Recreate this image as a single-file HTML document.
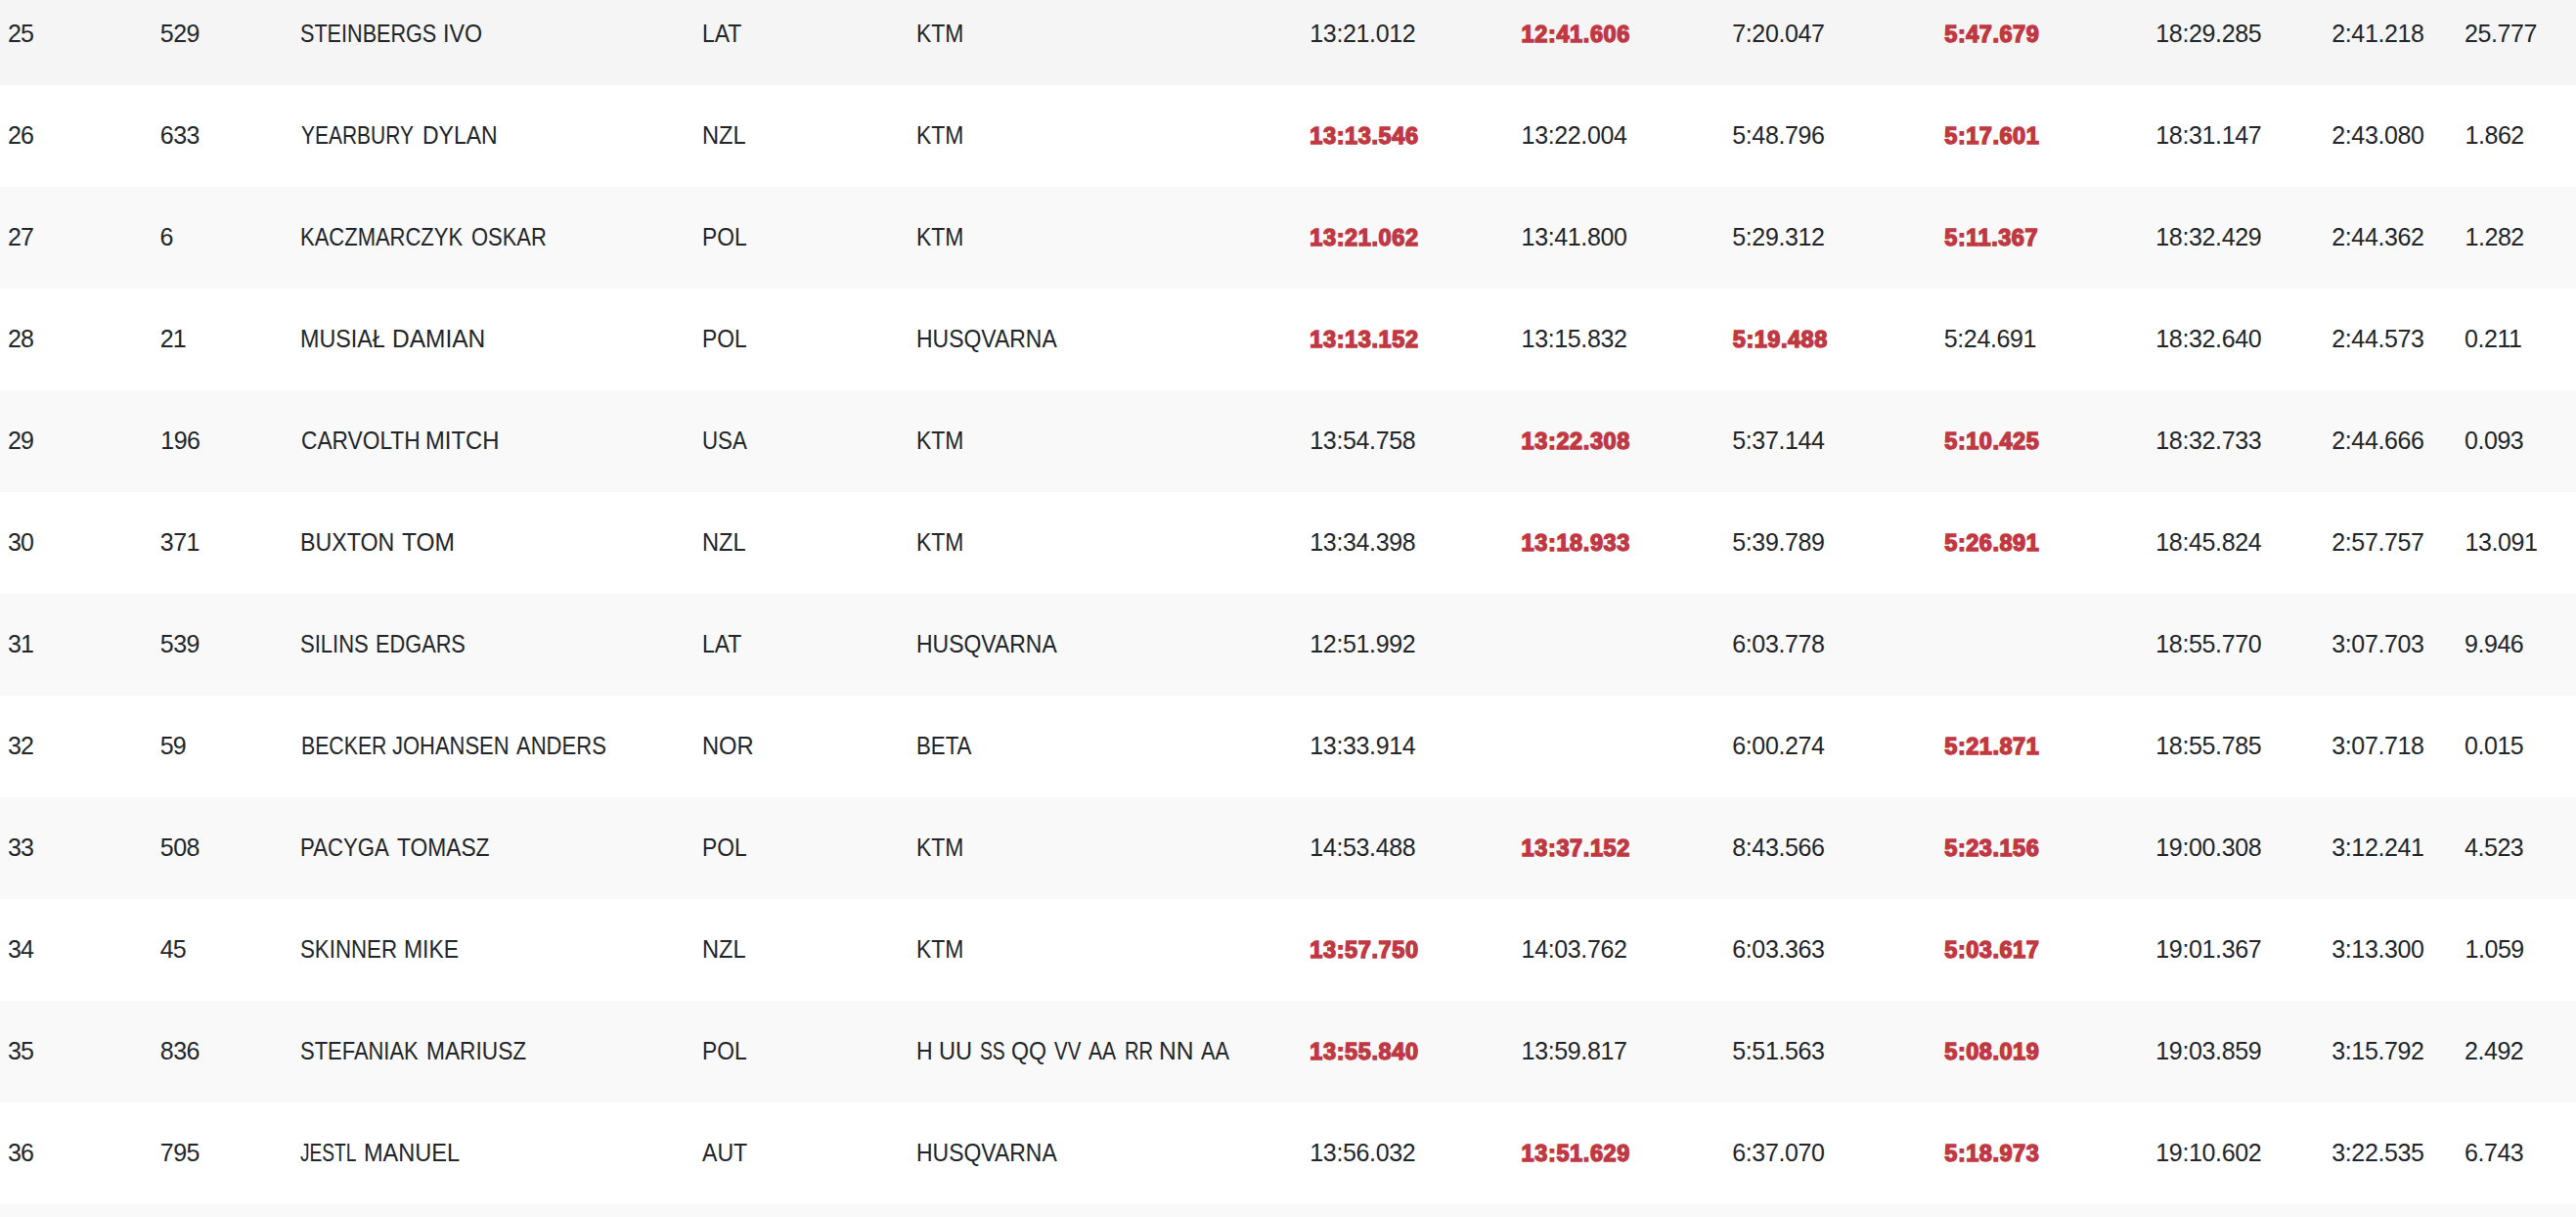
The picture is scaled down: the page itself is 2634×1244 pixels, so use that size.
<!DOCTYPE html>
<html lang="en"><head><meta charset="utf-8"><title>Results</title>
<style>
html,body{margin:0;padding:0;}
body{width:2634px;height:1244px;overflow:hidden;background:#fff;position:relative;
font-family:"Liberation Sans",sans-serif;font-size:25px;color:#22262a;}
.r{position:absolute;left:0;width:2634px;height:104px;background:#fff;}
.r.o{background:#f9f9f9;}
.r.h{background:#f5f5f5;}
.r span,.r b{position:absolute;top:-1px;height:104px;line-height:104px;white-space:pre;transform-origin:0 50%;}
.r b{top:0px;font-size:23.5px;font-weight:bold;color:#c03842;-webkit-text-stroke:1.4px #c03842;}
</style></head>
<body>
<div class="r h" style="top:-17px"><span style="left:8.00px;letter-spacing:-0.965px">25</span><span style="left:163.80px;letter-spacing:-0.565px">529</span><span style="left:307.17px;transform:scaleX(0.8643)">STEINBERGS</span><span style="left:452.56px;transform:scaleX(0.9308)">IVO</span><span style="left:717.77px;transform:scaleX(0.9169)">LAT</span><span style="left:937.22px;transform:scaleX(0.9169)">KTM</span><span style="left:1339.30px;letter-spacing:-0.362px">13:21.012</span><b style="left:1555.60px;letter-spacing:0.609px">12:41.606</b><span style="left:1771.30px;letter-spacing:-0.391px">7:20.047</span><b style="left:1988.30px;letter-spacing:0.529px">5:47.679</b><span style="left:2204.30px;letter-spacing:-0.362px">18:29.285</span><span style="left:2384.30px;letter-spacing:-0.391px">2:41.218</span><span style="left:2520.05px;letter-spacing:-0.403px">25.777</span></div>
<div class="r" style="top:87px"><span style="left:8.00px;letter-spacing:-0.965px">26</span><span style="left:163.80px;letter-spacing:-0.565px">633</span><span style="left:307.63px;transform:scaleX(0.8382)">YEARBURY</span><span style="left:432.31px;transform:scaleX(0.9186)">DYLAN</span><span style="left:717.71px;transform:scaleX(0.9449)">NZL</span><span style="left:937.22px;transform:scaleX(0.9169)">KTM</span><b style="left:1339.30px;letter-spacing:0.609px">13:13.546</b><span style="left:1555.60px;letter-spacing:-0.362px">13:22.004</span><span style="left:1771.30px;letter-spacing:-0.391px">5:48.796</span><b style="left:1988.30px;letter-spacing:0.529px">5:17.601</b><span style="left:2204.30px;letter-spacing:-0.362px">18:31.147</span><span style="left:2384.30px;letter-spacing:-0.391px">2:43.080</span><span style="left:2520.55px;letter-spacing:-0.463px">1.862</span></div>
<div class="r o" style="top:191px"><span style="left:8.00px;letter-spacing:-0.965px">27</span><span style="left:163.40px">6</span><span style="left:307.19px;transform:scaleX(0.8794)">KACZMARCZYK</span><span style="left:481.65px;transform:scaleX(0.8765)">OSKAR</span><span style="left:717.78px;transform:scaleX(0.9111)">POL</span><span style="left:937.22px;transform:scaleX(0.9169)">KTM</span><b style="left:1339.30px;letter-spacing:0.609px">13:21.062</b><span style="left:1555.60px;letter-spacing:-0.362px">13:41.800</span><span style="left:1771.30px;letter-spacing:-0.391px">5:29.312</span><b style="left:1988.30px;letter-spacing:0.529px">5:11.367</b><span style="left:2204.30px;letter-spacing:-0.362px">18:32.429</span><span style="left:2384.30px;letter-spacing:-0.391px">2:44.362</span><span style="left:2520.55px;letter-spacing:-0.463px">1.282</span></div>
<div class="r" style="top:295px"><span style="left:8.00px;letter-spacing:-0.965px">28</span><span style="left:163.80px;letter-spacing:-0.965px">21</span><span style="left:307.39px;transform:scaleX(0.9319)">MUSIAŁ</span><span style="left:400.69px;transform:scaleX(0.9791)">DAMIAN</span><span style="left:717.78px;transform:scaleX(0.9111)">POL</span><span style="left:936.91px;transform:scaleX(0.9184)">HUSQVARNA</span><b style="left:1339.30px;letter-spacing:0.609px">13:13.152</b><span style="left:1555.60px;letter-spacing:-0.362px">13:15.832</span><b style="left:1771.80px;letter-spacing:0.529px">5:19.488</b><span style="left:1987.80px;letter-spacing:-0.391px">5:24.691</span><span style="left:2204.30px;letter-spacing:-0.362px">18:32.640</span><span style="left:2384.30px;letter-spacing:-0.391px">2:44.573</span><span style="left:2520.05px;letter-spacing:-0.463px">0.211</span></div>
<div class="r o" style="top:399px"><span style="left:8.00px;letter-spacing:-0.965px">29</span><span style="left:164.30px;letter-spacing:-0.565px">196</span><span style="left:307.61px;transform:scaleX(0.9088)">CARVOLTH</span><span style="left:435.25px;transform:scaleX(0.9515)">MITCH</span><span style="left:717.82px;transform:scaleX(0.8893)">USA</span><span style="left:937.22px;transform:scaleX(0.9169)">KTM</span><span style="left:1339.30px;letter-spacing:-0.362px">13:54.758</span><b style="left:1555.60px;letter-spacing:0.609px">13:22.308</b><span style="left:1771.30px;letter-spacing:-0.391px">5:37.144</span><b style="left:1988.30px;letter-spacing:0.529px">5:10.425</b><span style="left:2204.30px;letter-spacing:-0.362px">18:32.733</span><span style="left:2384.30px;letter-spacing:-0.391px">2:44.666</span><span style="left:2520.05px;letter-spacing:-0.463px">0.093</span></div>
<div class="r" style="top:503px"><span style="left:8.00px;letter-spacing:-0.965px">30</span><span style="left:163.80px;letter-spacing:-0.565px">371</span><span style="left:307.39px;transform:scaleX(0.9293)">BUXTON</span><span style="left:411.26px;transform:scaleX(0.9790)">TOM</span><span style="left:717.71px;transform:scaleX(0.9449)">NZL</span><span style="left:937.22px;transform:scaleX(0.9169)">KTM</span><span style="left:1339.30px;letter-spacing:-0.362px">13:34.398</span><b style="left:1555.60px;letter-spacing:0.609px">13:18.933</b><span style="left:1771.30px;letter-spacing:-0.391px">5:39.789</span><b style="left:1988.30px;letter-spacing:0.529px">5:26.891</b><span style="left:2204.30px;letter-spacing:-0.362px">18:45.824</span><span style="left:2384.30px;letter-spacing:-0.391px">2:57.757</span><span style="left:2520.55px;letter-spacing:-0.403px">13.091</span></div>
<div class="r o" style="top:607px"><span style="left:8.00px;letter-spacing:-0.965px">31</span><span style="left:163.80px;letter-spacing:-0.565px">539</span><span style="left:307.35px;transform:scaleX(0.8808)">SILINS</span><span style="left:383.71px;transform:scaleX(0.8702)">EDGARS</span><span style="left:717.77px;transform:scaleX(0.9169)">LAT</span><span style="left:936.91px;transform:scaleX(0.9184)">HUSQVARNA</span><span style="left:1339.30px;letter-spacing:-0.362px">12:51.992</span><span style="left:1771.30px;letter-spacing:-0.391px">6:03.778</span><span style="left:2204.30px;letter-spacing:-0.362px">18:55.770</span><span style="left:2384.30px;letter-spacing:-0.391px">3:07.703</span><span style="left:2520.05px;letter-spacing:-0.463px">9.946</span></div>
<div class="r" style="top:711px"><span style="left:8.00px;letter-spacing:-0.965px">32</span><span style="left:163.80px;letter-spacing:-0.965px">59</span><span style="left:307.55px;transform:scaleX(0.8503)">BECKER</span><span style="left:401.41px;transform:scaleX(0.8779)">JOHANSEN</span><span style="left:528.45px;transform:scaleX(0.8816)">ANDERS</span><span style="left:717.70px;transform:scaleX(0.9483)">NOR</span><span style="left:936.97px;transform:scaleX(0.8898)">BETA</span><span style="left:1339.30px;letter-spacing:-0.362px">13:33.914</span><span style="left:1771.30px;letter-spacing:-0.391px">6:00.274</span><b style="left:1988.30px;letter-spacing:0.529px">5:21.871</b><span style="left:2204.30px;letter-spacing:-0.362px">18:55.785</span><span style="left:2384.30px;letter-spacing:-0.391px">3:07.718</span><span style="left:2520.05px;letter-spacing:-0.463px">0.015</span></div>
<div class="r o" style="top:815px"><span style="left:8.00px;letter-spacing:-0.965px">33</span><span style="left:163.80px;letter-spacing:-0.565px">508</span><span style="left:307.47px;transform:scaleX(0.8878)">PACYGA</span><span style="left:405.89px;transform:scaleX(0.9112)">TOMASZ</span><span style="left:717.78px;transform:scaleX(0.9111)">POL</span><span style="left:937.22px;transform:scaleX(0.9169)">KTM</span><span style="left:1339.30px;letter-spacing:-0.362px">14:53.488</span><b style="left:1555.60px;letter-spacing:0.609px">13:37.152</b><span style="left:1771.30px;letter-spacing:-0.391px">8:43.566</span><b style="left:1988.30px;letter-spacing:0.529px">5:23.156</b><span style="left:2204.30px;letter-spacing:-0.362px">19:00.308</span><span style="left:2384.30px;letter-spacing:-0.391px">3:12.241</span><span style="left:2520.05px;letter-spacing:-0.463px">4.523</span></div>
<div class="r" style="top:919px"><span style="left:8.00px;letter-spacing:-0.965px">34</span><span style="left:163.80px;letter-spacing:-0.965px">45</span><span style="left:307.34px;transform:scaleX(0.8912)">SKINNER</span><span style="left:413.12px;transform:scaleX(0.9172)">MIKE</span><span style="left:717.71px;transform:scaleX(0.9449)">NZL</span><span style="left:937.22px;transform:scaleX(0.9169)">KTM</span><b style="left:1339.30px;letter-spacing:0.609px">13:57.750</b><span style="left:1555.60px;letter-spacing:-0.362px">14:03.762</span><span style="left:1771.30px;letter-spacing:-0.391px">6:03.363</span><b style="left:1988.30px;letter-spacing:0.529px">5:03.617</b><span style="left:2204.30px;letter-spacing:-0.362px">19:01.367</span><span style="left:2384.30px;letter-spacing:-0.391px">3:13.300</span><span style="left:2520.55px;letter-spacing:-0.463px">1.059</span></div>
<div class="r o" style="top:1023px"><span style="left:8.00px;letter-spacing:-0.965px">35</span><span style="left:163.80px;letter-spacing:-0.565px">836</span><span style="left:307.35px;transform:scaleX(0.8779)">STEFANIAK</span><span style="left:436.13px;transform:scaleX(0.9084)">MARIUSZ</span><span style="left:717.78px;transform:scaleX(0.9111)">POL</span><span style="left:936.91px;transform:scaleX(0.9214)">H</span><span style="left:960.36px;transform:scaleX(0.9457)">UU</span><span style="left:1001.59px;transform:scaleX(0.7710)">SS</span><span style="left:1034.19px;transform:scaleX(0.9260)">QQ</span><span style="left:1078.15px;transform:scaleX(0.8180)">VV</span><span style="left:1113.45px;transform:scaleX(0.8451)">AA</span><span style="left:1149.64px;transform:scaleX(0.8061)">RR</span><span style="left:1185.39px;transform:scaleX(0.9812)">NN</span><span style="left:1228.45px;transform:scaleX(0.8692)">AA</span><b style="left:1339.30px;letter-spacing:0.609px">13:55.840</b><span style="left:1555.60px;letter-spacing:-0.362px">13:59.817</span><span style="left:1771.30px;letter-spacing:-0.391px">5:51.563</span><b style="left:1988.30px;letter-spacing:0.529px">5:08.019</b><span style="left:2204.30px;letter-spacing:-0.362px">19:03.859</span><span style="left:2384.30px;letter-spacing:-0.391px">3:15.792</span><span style="left:2520.05px;letter-spacing:-0.463px">2.492</span></div>
<div class="r" style="top:1127px"><span style="left:8.00px;letter-spacing:-0.965px">36</span><span style="left:163.80px;letter-spacing:-0.565px">795</span><span style="left:307.47px;transform:scaleX(0.7647)">JESTL</span><span style="left:372.47px;transform:scaleX(0.9419)">MANUEL</span><span style="left:718.05px;transform:scaleX(0.9232)">AUT</span><span style="left:936.91px;transform:scaleX(0.9184)">HUSQVARNA</span><span style="left:1339.30px;letter-spacing:-0.362px">13:56.032</span><b style="left:1555.60px;letter-spacing:0.609px">13:51.629</b><span style="left:1771.30px;letter-spacing:-0.391px">6:37.070</span><b style="left:1988.30px;letter-spacing:0.529px">5:18.973</b><span style="left:2204.30px;letter-spacing:-0.362px">19:10.602</span><span style="left:2384.30px;letter-spacing:-0.391px">3:22.535</span><span style="left:2520.05px;letter-spacing:-0.463px">6.743</span></div>
<div class="r o" style="top:1231px"><span style="left:8.00px;letter-spacing:-0.965px">37</span></div>
</body></html>
